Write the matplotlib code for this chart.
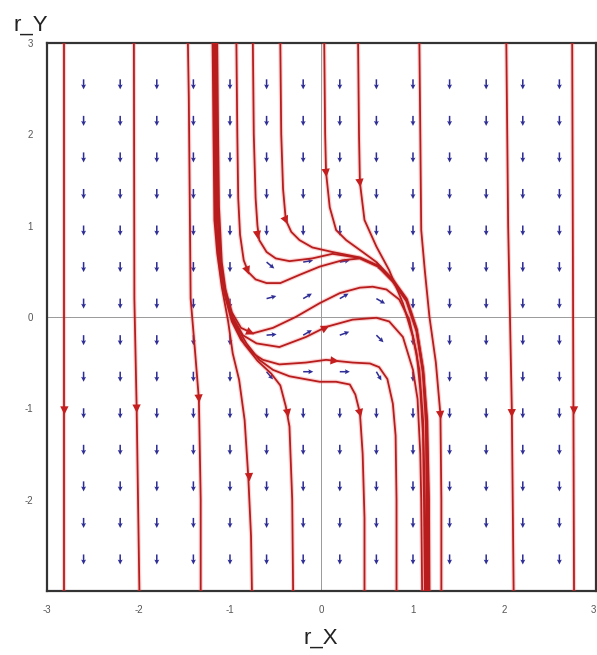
import matplotlib
matplotlib.use("Agg")
import matplotlib.pyplot as plt
import numpy as np

plt.rcParams['font.family'] = ['Liberation Sans', 'DejaVu Sans']
plt.rcParams['axes.unicode_minus'] = False

# trajectories, (r_X, r_Y) pairs, flowing from first to last point
traj_far_left = [(-2.81, 3.0), (-2.81, -3.0)]
traj_left2 = [(-2.05, 3.0), (-2.045, 0.2), (-2.02, -1.0), (-1.99, -3.0)]
traj_left3 = [(-1.46, 3.0), (-1.45, 2.4), (-1.43, 0.2), (-1.38, -0.4), (-1.34, -0.9),
              (-1.32, -2.0), (-1.32, -3.0)]
traj_top_a = [(-0.45, 3.0), (-0.44, 2.0), (-0.42, 1.4), (-0.39, 1.06), (-0.33, 0.93),
              (-0.24, 0.84), (-0.10, 0.76), (0.12, 0.71), (0.42, 0.65), (0.62, 0.56),
              (0.78, 0.40), (0.93, 0.19), (1.04, -0.14), (1.11, -0.58), (1.15, -1.13),
              (1.17, -2.0), (1.17, -3.0)]
traj_top_b = [(-0.75, 3.0), (-0.74, 2.0), (-0.72, 1.3), (-0.70, 1.0), (-0.68, 0.84),
              (-0.60, 0.71), (-0.50, 0.64), (-0.35, 0.61), (-0.10, 0.64), (0.12, 0.69),
              (0.42, 0.645), (0.62, 0.555), (0.78, 0.39), (0.93, 0.18), (1.04, -0.15),
              (1.11, -0.60), (1.15, -1.15), (1.16, -2.0), (1.16, -3.0)]
traj_top_c = [(-0.93, 3.0), (-0.92, 2.0), (-0.91, 1.3), (-0.89, 0.9), (-0.85, 0.62),
              (-0.80, 0.49), (-0.72, 0.41), (-0.60, 0.37), (-0.45, 0.37), (-0.24, 0.46),
              (-0.02, 0.55), (0.23, 0.62), (0.42, 0.64), (0.62, 0.55), (0.78, 0.385),
              (0.93, 0.17), (1.04, -0.16), (1.11, -0.62), (1.14, -1.15), (1.15, -2.0),
              (1.15, -3.0)]
traj_top_d = [(0.03, 3.0), (0.04, 2.0), (0.05, 1.58), (0.09, 1.2), (0.16, 0.95),
              (0.27, 0.84), (0.45, 0.71), (0.60, 0.60), (0.78, 0.41), (0.93, 0.20),
              (1.04, -0.13), (1.11, -0.57), (1.155, -1.13), (1.175, -2.0), (1.18, -3.0)]
traj_top_e = [(0.40, 3.0), (0.41, 2.0), (0.42, 1.47), (0.47, 1.06), (0.60, 0.77),
              (0.74, 0.51), (0.89, 0.15), (1.0, -0.22), (1.07, -0.58), (1.11, -1.13),
              (1.13, -2.0), (1.14, -3.0)]
traj_top_f = [(1.07, 3.0), (1.08, 2.0), (1.09, 0.95), (1.13, 0.5), (1.18, 0.0),
              (1.25, -0.5), (1.30, -1.07), (1.31, -2.0), (1.31, -3.0)]
traj_right2 = [(2.02, 3.0), (2.04, 1.0), (2.08, -1.0), (2.10, -3.0)]
traj_right1 = [(2.74, 3.0), (2.76, -3.0)]

# the bundle coming down near r_X = -1.15 and fanning out
traj_fan1 = [(-1.14, 3.0), (-1.13, 2.0), (-1.12, 1.2), (-1.09, 0.6), (-1.05, 0.3),
             (-0.98, 0.05), (-0.88, -0.12), (-0.75, -0.18), (-0.53, -0.12), (-0.28, 0.0),
             (-0.02, 0.15), (0.20, 0.26), (0.42, 0.32), (0.56, 0.33), (0.71, 0.30),
             (0.85, 0.19), (0.96, -0.03), (1.04, -0.40), (1.08, -0.8), (1.11, -1.3),
             (1.12, -2.0), (1.13, -3.0)]
traj_fan2 = [(-1.15, 3.0), (-1.14, 2.0), (-1.13, 1.2), (-1.10, 0.6), (-1.05, 0.25),
             (-0.97, 0.0), (-0.86, -0.2), (-0.71, -0.29), (-0.46, -0.33), (-0.17, -0.22),
             (0.05, -0.11), (0.34, -0.03), (0.60, -0.01), (0.74, -0.05), (0.89, -0.22),
             (1.0, -0.58), (1.05, -0.9), (1.08, -1.5), (1.09, -2.0), (1.10, -3.0)]
traj_fan3 = [(-1.16, 3.0), (-1.15, 2.0), (-1.14, 1.2), (-1.11, 0.6), (-1.06, 0.25),
             (-0.98, -0.05), (-0.88, -0.25), (-0.75, -0.40), (-0.64, -0.47), (-0.46, -0.52),
             (-0.17, -0.50), (0.05, -0.47), (0.34, -0.50), (0.53, -0.51), (0.63, -0.55),
             (0.72, -0.68), (0.78, -0.95), (0.81, -1.3), (0.82, -2.0), (0.82, -3.0)]
traj_fan4 = [(-1.17, 3.0), (-1.16, 2.0), (-1.15, 1.06), (-1.12, 0.70), (-1.06, 0.33),
             (-0.97, -0.03), (-0.82, -0.29), (-0.68, -0.47), (-0.53, -0.58), (-0.35, -0.65),
             (-0.02, -0.71), (0.16, -0.71), (0.31, -0.74), (0.37, -0.85), (0.42, -1.05),
             (0.45, -1.5), (0.47, -2.2), (0.47, -3.0)]
traj_fan5 = [(-1.18, 3.0), (-1.17, 2.0), (-1.16, 1.06), (-1.13, 0.70), (-1.07, 0.33),
             (-0.98, -0.03), (-0.84, -0.30), (-0.70, -0.48), (-0.55, -0.62), (-0.45, -0.75),
             (-0.39, -0.98), (-0.35, -1.2), (-0.32, -2.0), (-0.31, -3.0)]
traj_fan6 = [(-1.19, 3.0), (-1.18, 2.0), (-1.17, 1.06), (-1.14, 0.70), (-1.09, 0.33),
             (-1.02, -0.05), (-0.97, -0.40), (-0.90, -0.69), (-0.84, -1.13), (-0.80, -1.75),
             (-0.77, -2.4), (-0.76, -3.0)]

trajectories = [traj_far_left, traj_left2, traj_left3, traj_top_a, traj_top_b, traj_top_c,
                traj_top_d, traj_top_e, traj_top_f, traj_right2, traj_right1,
                traj_fan1, traj_fan2, traj_fan3, traj_fan4, traj_fan5, traj_fan6]

# where the red arrow heads sit on the trajectories
arrow_heads = [(traj_far_left, (-2.81, -1.02)), (traj_left2, (-2.02, -1.0)),
               (traj_left3, (-1.34, -0.89)), (traj_top_a, (-0.39, 1.06)),
               (traj_top_b, (-0.70, 0.90)), (traj_top_c, (-0.81, 0.51)),
               (traj_top_d, (0.05, 1.58)), (traj_top_e, (0.42, 1.47)),
               (traj_top_f, (1.30, -1.07)), (traj_right2, (2.08, -1.05)),
               (traj_right1, (2.76, -1.02)), (traj_fan1, (-0.78, -0.17)),
               (traj_fan2, (0.04, -0.12)), (traj_fan3, (0.14, -0.48)),
               (traj_fan4, (0.42, -1.05)), (traj_fan5, (-0.37, -1.05)),
               (traj_fan6, (-0.79, -1.75))]

# direction field: grid of blue arrows, pointing down except in the middle band
grid_vals = [-2.6, -2.2, -1.8, -1.4, -1.0, -0.6, -0.2, 0.2, 0.6, 1.0, 1.4, 1.8, 2.2, 2.6]
band_x = [-0.6, -0.2, 0.2, 0.6, -0.6, -0.2, 0.2, 0.6, -0.6, -0.2, 0.2, 0.6, -0.6, -0.2, 0.2, 0.6]
band_y = [0.6, 0.6, 0.6, 0.6, 0.2, 0.2, 0.2, 0.2, -0.2, -0.2, -0.2, -0.2, -0.6, -0.6, -0.6, -0.6]
band_angle = [-40, 10, 10, -60, 15, 30, 30, -30, 5, 30, 20, -45, -50, 0, 0, -60]

fig = plt.figure(figsize=(5.97, 6.55), dpi=100)
ax = fig.add_axes([0.0787, 0.0977, 0.9196, 0.837])

ax.axhline(0, color='#999999', lw=0.7, zorder=1)
ax.axvline(0, color='#999999', lw=0.7, zorder=1)

gx, gy = np.meshgrid(grid_vals, grid_vals)
ang = np.full(gx.shape, -90.0)
for bx, by, ba in zip(band_x, band_y, band_angle):
    ang[(np.isclose(gx, bx)) & (np.isclose(gy, by))] = ba
qlen = 0.11
ax.quiver(gx, gy, qlen * np.cos(np.radians(ang)), qlen * np.sin(np.radians(ang)),
          angles='xy', scale_units='xy', scale=1, pivot='tail', color='#2e2e96',
          width=0.0028, headwidth=3.2, headlength=3.2, headaxislength=2.8, zorder=2)

for tr in trajectories:
    xs = [p[0] for p in tr]
    ys = [p[1] for p in tr]
    ax.plot(xs, ys, color='#ee5555', lw=3.0, alpha=0.25, solid_capstyle='round', zorder=3)
    ax.plot(xs, ys, color='#b81c1c', lw=1.3, zorder=4)

for tr, (hx, hy) in arrow_heads:
    pts = np.array(tr)
    mids = (pts[:-1] + pts[1:]) / 2
    i = int(np.argmin(np.hypot(mids[:, 0] - hx, mids[:, 1] - hy)))
    d = pts[i + 1] - pts[i]
    d = d / np.hypot(*d)
    ax.annotate('', xy=(hx + 0.05 * d[0], hy + 0.05 * d[1]),
                xytext=(hx - 0.05 * d[0], hy - 0.05 * d[1]),
                arrowprops=dict(arrowstyle='-|>,head_length=0.6,head_width=0.3',
                                color='#c41e1e', lw=0, shrinkA=0, shrinkB=0),
                zorder=5)

ax.set_xlim(-3, 3)
ax.set_ylim(-3, 3)
ax.set_xticks([-3, -2, -1, 0, 1, 2, 3])
ax.set_yticks([-2, -1, 0, 1, 2, 3])
ax.tick_params(length=0, labelsize=7, labelcolor='#555555', pad=10)
# last x label sits on the figure edge, keep it inside
ax.get_xticklabels()[-1].set_horizontalalignment('right')
for s in ax.spines.values():
    s.set_color('#333333')
    s.set_linewidth(1.6)

fig.text(0.538, 0.026, 'r_X', fontsize=16, ha='center', va='center', color='#222222')
fig.text(0.052, 0.962, 'r_Y', fontsize=16, ha='center', va='center', color='#222222')

fig.savefig('out.png', dpi=100)
